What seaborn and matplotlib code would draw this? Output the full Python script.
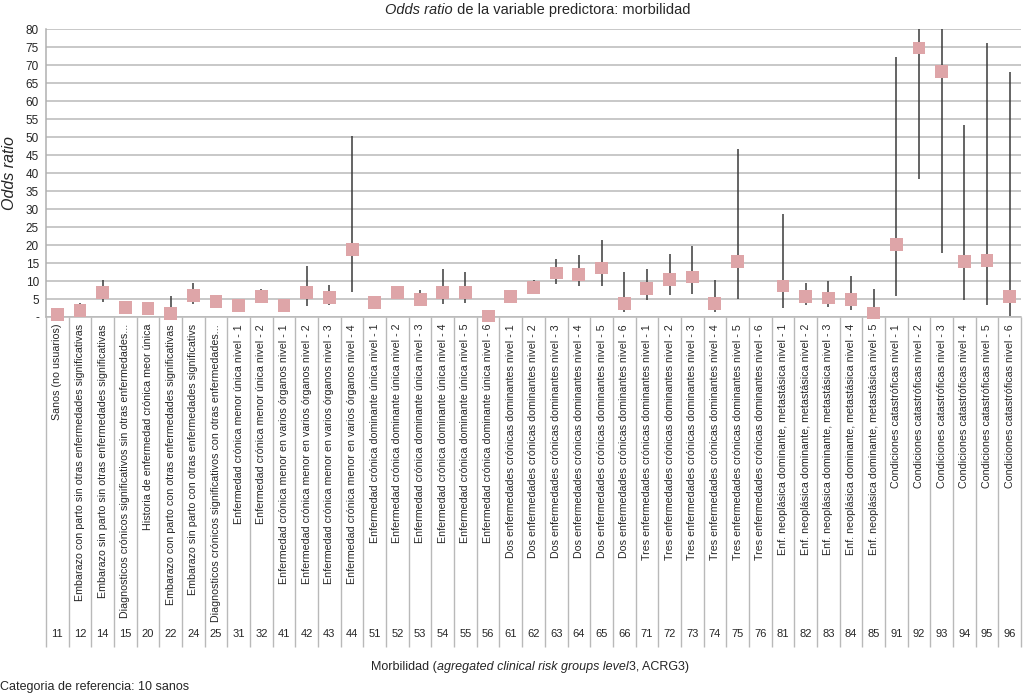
import numpy as np
import pandas as pd
import matplotlib
matplotlib.use("Agg")
import matplotlib.pyplot as plt
import matplotlib.transforms as mtrans
import seaborn as sns

# <--- datos --->
codigos = [11, 12, 14, 15, 20, 22, 24, 25, 31, 32, 41, 42, 43, 44,
           51, 52, 53, 54, 55, 56, 61, 62, 63, 64, 65, 66,
           71, 72, 73, 74, 75, 76, 81, 82, 83, 84, 85,
           91, 92, 93, 94, 95, 96]

nombres = [
    "Sanos (no usuarios)",
    "Embarazo con parto sin otras enfermedades significativas",
    "Embarazo sin parto sin otras enfermedades significativas",
    "Diagnosticos crónicos significativos sin otras enfermedades...",
    "Historia de enfermedad crónica meor única",
    "Embarazo con parto con otras enfermedades significativas",
    "Embarazo sin parto con otras enfermedades significativs",
    "Diagnosticos crónicos significativos con otras enfermedades...",
    "Enfermedad crónica menor única nivel - 1",
    "Enfermedad crónica menor única nivel - 2",
    "Enfermedad crónica menor en varios órganos nivel - 1",
    "Enfermedad crónica menor en varios órganos nivel - 2",
    "Enfermedad crónica menor en varios órganos nivel - 3",
    "Enfermedad crónica menor en varios órganos nivel - 4",
    "Enfermedad crónica dominante única nivel - 1",
    "Enfermedad crónica dominante única nivel - 2",
    "Enfermedad crónica dominante única nivel - 3",
    "Enfermedad crónica dominante única nivel - 4",
    "Enfermedad crónica dominante única nivel - 5",
    "Enfermedad crónica dominante única nivel - 6",
    "Dos enfermedades crónicas dominantes nivel - 1",
    "Dos enfermedades crónicas dominantes nivel - 2",
    "Dos enfermedades crónicas dominantes nivel - 3",
    "Dos enfermedades crónicas dominantes nivel - 4",
    "Dos enfermedades crónicas dominantes nivel - 5",
    "Dos enfermedades crónicas dominantes nivel - 6",
    "Tres enfermedades crónicas dominantes nivel - 1",
    "Tres enfermedades crónicas dominantes nivel - 2",
    "Tres enfermedades crónicas dominantes nivel - 3",
    "Tres enfermedades crónicas dominantes nivel - 4",
    "Tres enfermedades crónicas dominantes nivel - 5",
    "Tres enfermedades crónicas dominantes nivel - 6",
    "Enf. neoplásica dominante, metastásica nivel - 1",
    "Enf. neoplásica dominante, metastásica nivel - 2",
    "Enf. neoplásica dominante, metastásica nivel - 3",
    "Enf. neoplásica dominante, metastásica nivel - 4",
    "Enf. neoplásica dominante, metastásica nivel - 5",
    "Condiciones catastróficas nivel - 1",
    "Condiciones catastróficas nivel - 2",
    "Condiciones catastróficas nivel - 3",
    "Condiciones catastróficas nivel - 4",
    "Condiciones catastróficas nivel - 5",
    "Condiciones catastróficas nivel - 6",
]

odds = [0.65, 1.7, 6.7, 2.6, 2.4, 0.95, 6.0, 4.3, 3.1, 5.7, 3.3, 6.7, 5.5, 18.7,
        4.0, 6.7, 4.9, 6.9, 6.9, 0.3, 5.75, 8.2, 12.2, 11.9, 13.6, 3.7,
        7.9, 10.4, 11.1, 3.7, 15.5, np.nan, 8.6, 5.6, 5.3, 4.8, 1.1,
        20.2, 74.7, 68.1, 15.5, 15.8, 5.6]

ic_inf = [0.4, 0.9, 4.2, 1.9, 1.8, 0.2, 3.7, 3.4, 2.4, 4.0, 2.6, 3.0, 3.4, 6.9,
          3.2, 5.5, 3.3, 3.7, 3.9, 0.1, 4.8, 6.5, 9.3, 8.5, 8.5, 1.4,
          4.8, 6.0, 6.3, 1.4, 5.1, np.nan, 2.6, 3.25, 2.8, 2.05, 0.2,
          5.8, 38.3, 17.8, 4.6, 3.25, 0.4]

ic_sup = [0.9, 3.9, 10.2, 3.3, 3.0, 5.75, 9.4, 5.2, 3.8, 7.9, 4.0, 14.1, 8.8, 50.2,
          4.8, 7.9, 7.4, 13.2, 12.4, 0.6, 6.8, 10.2, 16.2, 17.1, 21.3, 12.5,
          13.2, 17.6, 19.7, 10.2, 46.6, np.nan, 28.7, 9.4, 10.0, 11.3, 7.9,
          72.2, 120.0, 110.0, 53.3, 76.0, 68.1]

df = pd.DataFrame({"codigo": codigos, "nombre": nombres, "odds": odds,
                   "inf": ic_inf, "sup": ic_sup})

sns.set_style("white")
plt.rcParams["font.family"] = ["Liberation Sans", "DejaVu Sans"]

W, H = 1024, 697
fig = plt.figure(figsize=(W / 100, H / 100), dpi=100)
ax = fig.add_axes([46 / W, 1 - 317 / H, (1021 - 46) / W, (317 - 29) / H])

n = len(df)
pos = np.arange(n)

# intervalos de confianza
ax.vlines(pos, df["inf"], df["sup"], color="#3a3a3a", lw=1.1, zorder=2)

sns.scatterplot(data=df, x="nombre", y="odds", marker="s", s=85,
                color="#dea5a8", edgecolor="none", ax=ax, zorder=3, clip_on=False)

ax.set_xlim(-0.5, n - 0.5)
ax.set_ylim(0, 80)
yt = np.arange(0, 81, 5)
ax.set_yticks(yt)
ax.set_yticklabels(["-"] + [str(v) for v in yt[1:]], fontsize=8.5)
ax.yaxis.grid(True, color="#b9b9b9", lw=1.1)
ax.set_axisbelow(True)

ax.set_xticks(pos)
ax.set_xticklabels(df["nombre"], rotation=90, fontsize=7.7)
ax.tick_params(axis="x", length=0, pad=5)
ax.tick_params(axis="y", length=0, pad=5)

for side in ["top", "right"]:
    ax.spines[side].set_visible(False)
ax.spines["left"].set_color("#b0b0b0")
ax.spines["bottom"].set_color("#b9b9b9")
ax.spines["left"].set_linewidth(1.1)
ax.spines["bottom"].set_linewidth(1.1)

ax.set_xlabel("")
ax.set_ylabel("Odds ratio", style="italic", fontsize=11.5, labelpad=6)

# tabla de codigos bajo el eje
ax_h = 317 - 29
trans = mtrans.blended_transform_factory(ax.transData, ax.transAxes)
bordes = np.arange(n + 1) - 0.5
ax.vlines(bordes, 0, -(647 - 317) / ax_h, transform=trans, color="#b9b9b9",
          lw=1.0, clip_on=False)
for p, c in zip(pos, df["codigo"]):
    ax.text(p, -(634 - 317) / ax_h, str(c), transform=trans, ha="center",
            va="center", fontsize=8)

# textos con partes en cursiva
renderer = fig.canvas.get_renderer()


def texto_mixto(xc, yc, partes, size):
    objs = []
    for s, st in partes:
        objs.append(fig.text(0, yc, s, style=st, ha="left", va="center", fontsize=size))
    anchos = [t.get_window_extent(renderer).width for t in objs]
    x = xc - sum(anchos) / 2
    for t, w in zip(objs, anchos):
        t.set_x(x / W)
        x += w


texto_mixto(538, 1 - 10 / H, [("Odds ratio", "italic"),
                              (" de la variable predictora: morbilidad", "normal")], 10.5)
texto_mixto(530, 1 - 667 / H, [("Morbilidad (", "normal"),
                               ("agregated clinical risk groups level", "italic"),
                               ("3, ACRG3)", "normal")], 9)
fig.text(0.5 / W, 1 - 687 / H, "Categoria de referencia: 10 sanos", ha="left",
         va="center", fontsize=9)

fig.savefig("out.png", dpi=100)
